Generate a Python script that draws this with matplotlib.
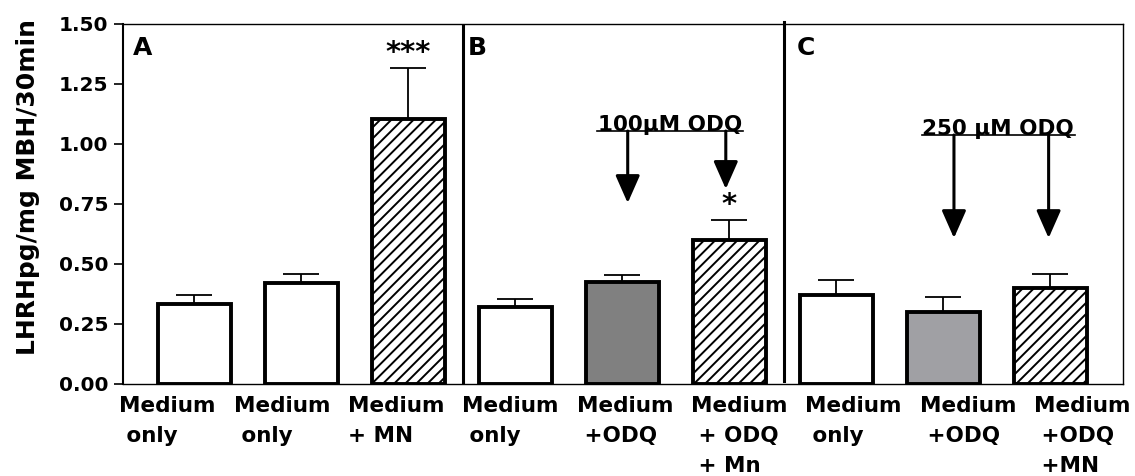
import numpy as np
import matplotlib
matplotlib.use("Agg")
import matplotlib.pyplot as plt
from matplotlib.ticker import FormatStrFormatter

# LHRH release per condition, three experiments (A, B, C)
conditions = ["Medium\n only", "Medium\n only", "Medium\n+ MN",
              "Medium\n only", "Medium\n +ODQ", "Medium\n + ODQ\n + Mn",
              "Medium\n only", "Medium\n +ODQ", "Medium\n +ODQ\n +MN"]
means = [0.335, 0.42, 1.105, 0.32, 0.425, 0.60, 0.37, 0.30, 0.40]
sems = [0.035, 0.038, 0.21, 0.033, 0.03, 0.083, 0.063, 0.063, 0.058]
panels = ["A", "B", "C"]
stars = ["", "", "***", "", "", "*", "", "", ""]
odq_doses = ["100µM ODQ", "250 µM ODQ"]

fills = ["white", "white", "white", "white", "#808080",
         "white", "white", "#a0a0a4", "white"]
hatches = ["", "", "///", "", "", "///", "", "", "///"]

plt.rcParams["font.family"] = "DejaVu Sans"
plt.rcParams["font.weight"] = "bold"
plt.rcParams["hatch.linewidth"] = 1.4

fig = plt.figure(figsize=(11.35, 4.76), dpi=100)
ax = fig.add_axes([0.1084, 0.1933, 0.881, 0.7563])

x = np.arange(len(means))
bars = ax.bar(x, means, width=0.68, color=fills, edgecolor="black",
              linewidth=2.8, zorder=3)
for b, h in zip(bars, hatches):
    if h:
        b.set_hatch(h)

ax.errorbar(x, means, yerr=[np.zeros(len(sems)), sems], fmt="none",
            ecolor="black", elinewidth=1.3, capsize=13, capthick=1.3, zorder=2)

for i, s in enumerate(stars):
    if s:
        ax.text(x[i], means[i] + sems[i] + 0.005, s, ha="center", va="bottom",
                fontsize=21)

ax.set_xlim(-0.668, 8.68)
ax.set_ylim(0, 1.5)
ax.set_yticks(np.arange(0, 1.51, 0.25))
ax.yaxis.set_major_formatter(FormatStrFormatter("%.2f"))
ax.tick_params(axis="y", direction="out", length=6.5, width=1.2, pad=4,
               labelsize=14.5)

ax.set_xticks(np.linspace(-0.25, 8.3, len(conditions)))
ax.set_xticklabels(conditions, fontsize=15.5, linespacing=1.6,
                   multialignment="left")
ax.tick_params(axis="x", length=0, pad=9)

for side in ["top", "right", "bottom"]:
    ax.spines[side].set_linewidth(1.0)
ax.spines["left"].set_linewidth(1.5)

ax.set_ylabel("LHRHpg/mg MBH/30min", fontsize=18, fontweight="bold")
ax.yaxis.set_label_coords(-0.083, 0.546)

# panel dividers
ax.axvline(2.509, ymin=0.003, ymax=1.0, color="black", lw=2.2, zorder=4)
ax.axvline(5.514, ymin=0.008, ymax=1.006, color="black", lw=2.2, zorder=4,
           clip_on=False)

for px, p in zip([-0.575, 2.556, 5.63], panels):
    ax.text(px, 1.40, p, ha="left", va="center", fontsize=18)

# ODQ treatment brackets with arrows
brackets = [
    (odq_doses[0], 4.444, 1.054, (3.76, 5.126), [(4.05, 0.754), (4.967, 0.8125)]),
    (odq_doses[1], 7.51, 1.0375, (6.80, 8.23), [(7.10, 0.608), (7.985, 0.608)]),
]
for label, cx, ly, (x0, x1), arrows in brackets:
    ax.text(cx, ly + 0.002, label, ha="center", va="baseline", fontsize=15.5)
    ax.plot([x0, x1], [ly, ly], color="black", lw=1.2)
    for ax_x, tip in arrows:
        ax.annotate("", xy=(ax_x, tip), xytext=(ax_x, ly),
                    arrowprops=dict(arrowstyle="-|>,head_length=17,head_width=7.5",
                                    mutation_scale=1, lw=2.2, color="black",
                                    shrinkA=0, shrinkB=0))

fig.savefig("out.png", dpi=100)
